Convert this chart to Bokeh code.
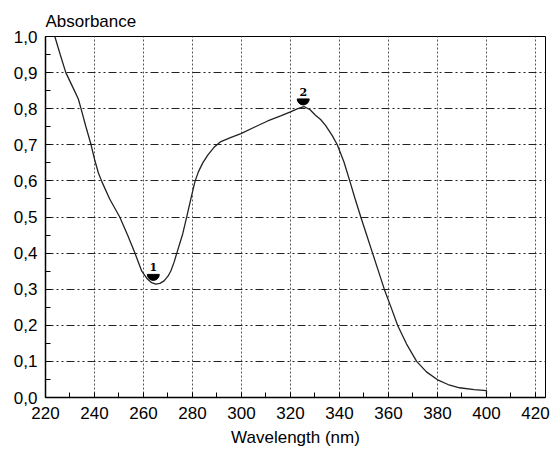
import math
from bokeh.plotting import figure
from bokeh.models import Range1d, FixedTicker, CustomJSTickFormatter
from bokeh.core.properties import value
from bokeh.embed import file_html
from bokeh.resources import INLINE

# ---- data ----
wavelength = [223.8, 226.0, 228.3, 231.8, 233.4, 234.5, 236.5, 238.6, 240.2, 241.6,
              243.0, 246.2, 250.3, 253.5, 256.5, 259.3, 261.6, 263.3, 265.0, 266.7,
              268.4, 270.0, 271.2, 272.5, 273.6, 276.0, 277.6, 279.5, 281.0, 282.4,
              284.2, 286.3, 288.8, 291.6, 295.5, 299.8, 305.0, 310.7, 316.0, 320.0,
              323.0, 325.5, 328.0, 330.2, 332.3, 334.3, 337.0, 339.1, 341.8, 344.2,
              346.4, 348.7, 351.1, 353.5, 355.9, 358.4, 361.1, 363.8, 367.4, 371.5,
              375.5, 380.3, 384.3, 389.0, 395.0, 400.0, 400.0]
absorbance = [1.000, 0.950, 0.900, 0.850, 0.827, 0.800, 0.750, 0.700, 0.655, 0.622,
              0.598, 0.550, 0.500, 0.450, 0.400, 0.350, 0.328, 0.318, 0.314, 0.316,
              0.323, 0.336, 0.351, 0.375, 0.400, 0.453, 0.499, 0.555, 0.598, 0.625,
              0.650, 0.672, 0.693, 0.709, 0.720, 0.731, 0.748, 0.766, 0.780, 0.791,
              0.800, 0.806, 0.797, 0.782, 0.770, 0.754, 0.726, 0.700, 0.653, 0.600,
              0.550, 0.500, 0.450, 0.400, 0.350, 0.298, 0.249, 0.199, 0.148, 0.100,
              0.071, 0.048, 0.036, 0.027, 0.022, 0.019, 0.010]

peak_wavelength = [264.0, 325.2]
peak_absorbance = [0.341, 0.827]
peak_labels = ["1", "2"]

x_ticks = [220, 240, 260, 280, 300, 320, 340, 360, 380, 400, 420]
x_minor = [230, 250, 270, 290, 310, 330, 350, 370, 390, 410]
y_ticks = [0.0, 0.1, 0.2, 0.3, 0.4, 0.5, 0.6, 0.7, 0.8, 0.9, 1.0]
y_minor = [0.05, 0.15, 0.25, 0.35, 0.45, 0.55, 0.65, 0.75, 0.85, 0.95]

FONT = "Liberation Sans"

p = figure(width=550, height=451, output_backend="svg", toolbar_location=None,
           x_range=Range1d(220, 424.1), y_range=Range1d(0, 1.0),
           min_border_left=45, min_border_right=5, min_border_top=36,
           min_border_bottom=54, background_fill_color="white",
           border_fill_color="white")

p.title.text = "Absorbance"
p.title.align = "left"
p.title.offset = 0
p.title.text_font = FONT
p.title.text_font_size = "17px"
p.title.text_font_style = "normal"
p.title.text_color = "black"
p.title.standoff = 12

p.outline_line_color = "black"
p.outline_line_width = 1

# axes
p.xaxis.ticker = FixedTicker(ticks=x_ticks, minor_ticks=x_minor)
p.yaxis.ticker = FixedTicker(ticks=y_ticks, minor_ticks=y_minor)
p.yaxis.formatter = CustomJSTickFormatter(code="return tick.toFixed(1).replace('.', ',');")
for ax in (p.xaxis[0], p.yaxis[0]):
    ax.axis_line_color = "black"
    ax.axis_line_width = 1.5
    ax.major_tick_out = 0
    ax.major_tick_in = 5
    ax.minor_tick_out = 0
    ax.minor_tick_in = 5
    ax.major_tick_line_color = "black"
    ax.minor_tick_line_color = "black"
    ax.major_label_text_font = FONT
    ax.major_label_text_font_size = "17px"
    ax.major_label_text_color = "black"
    ax.axis_label_text_font = FONT
    ax.axis_label_text_font_size = "17px"
    ax.axis_label_text_font_style = "normal"
    ax.axis_label_text_color = "black"
p.xaxis.major_label_standoff = 9
p.yaxis.major_label_standoff = 8
p.xaxis.axis_label = "Wavelength (nm)"
p.xaxis.axis_label_standoff = 6

# grid
p.xgrid.grid_line_color = "#555555"
p.xgrid.grid_line_dash = "2 2"
p.xgrid.grid_line_width = 1
p.ygrid.grid_line_color = "#222222"
p.ygrid.grid_line_dash = "8 3 2 3 2 3"
p.ygrid.grid_line_width = 1

# curve
p.line(wavelength, absorbance, line_color="#222222", line_width=1.3)

# peak markers (half discs pointing down) and numbers
p.wedge(x=peak_wavelength, y=peak_absorbance, radius=6, radius_units="screen",
        start_angle=math.pi, end_angle=2 * math.pi, fill_color="black",
        line_color="black")
p.text(x=peak_wavelength, y=peak_absorbance, text=peak_labels,
       text_font=value("DejaVu Serif"), text_font_style="bold",
       text_font_size="11px", text_align="center", text_baseline="bottom",
       y_offset=-3, text_color="black")

open("out.html", "w").write(file_html(p, INLINE))
